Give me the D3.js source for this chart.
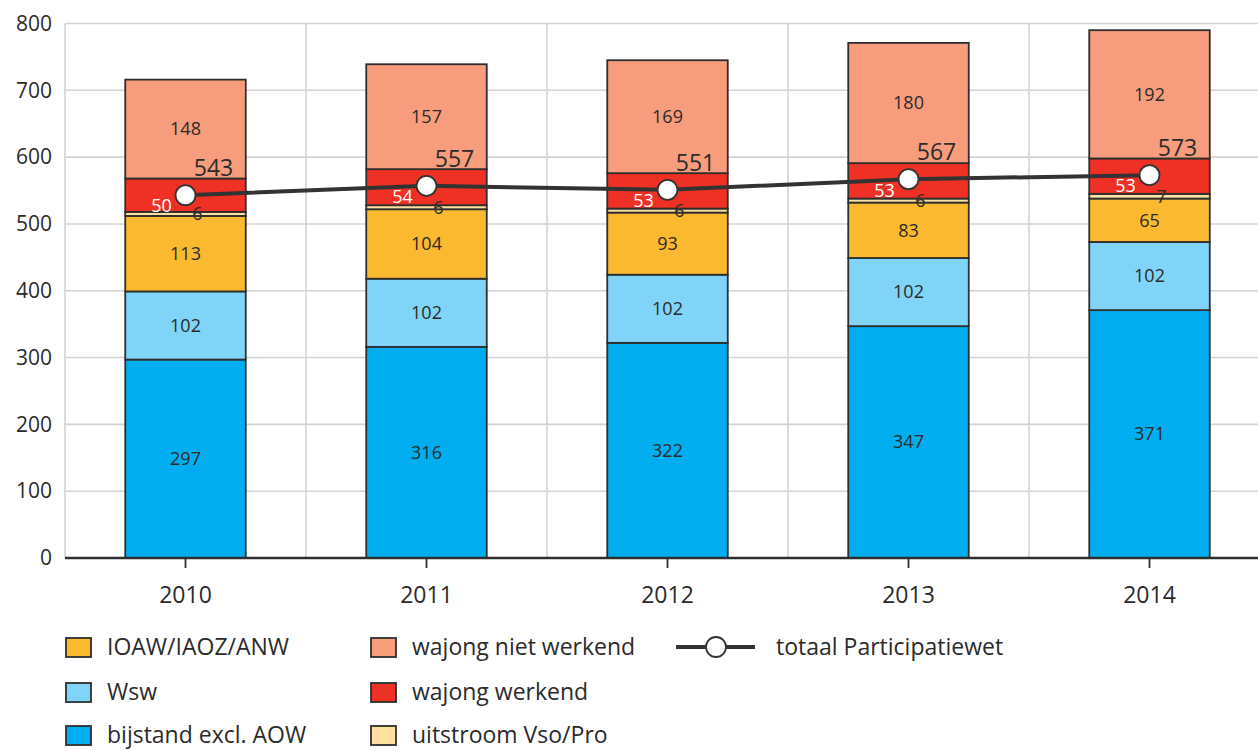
<!DOCTYPE html>
<html><head><meta charset="utf-8">
<script src="https://cdn.jsdelivr.net/npm/d3@7"></script>
<style>
body{margin:0;background:#fff;}
svg text{font-family:"Open Sans","Noto Sans",sans-serif;fill:#2b2b2b;}
</style></head>
<body>
<svg id="chart" width="1258" height="751"></svg>
<script>
const years = ["2010","2011","2012","2013","2014"];
const bijstand = [297,316,322,347,371];
const wsw = [102,102,102,102,102];
const ioaw = [113,104,93,83,65];
const uitstroom = [6,6,6,6,7];
const wajongWerkend = [50,54,53,53,53];
const wajongNietWerkend = [148,157,169,180,192];
const totaal = [543,557,551,567,573];
const yTicks = [0,100,200,300,400,500,600,700,800];

const seriesDefs = [
  {key:"bijstand", name:"bijstand excl. AOW", values:bijstand, color:"#00aeef"},
  {key:"wsw", name:"Wsw", values:wsw, color:"#80d4f7"},
  {key:"ioaw", name:"IOAW/IAOZ/ANW", values:ioaw, color:"#fbb92f"},
  {key:"uitstroom", name:"uitstroom Vso/Pro", values:uitstroom, color:"#fee19f"},
  {key:"ww", name:"wajong werkend", values:wajongWerkend, color:"#ee3124"},
  {key:"wnw", name:"wajong niet werkend", values:wajongNietWerkend, color:"#f79c7c"}
];

const svg = d3.select("#chart");
const x = d3.scaleBand().domain(years).range([65,1270]).padding(0);
const y = d3.scaleLinear().domain([0,800]).range([558,23.5]);
const barW = x.bandwidth()*0.5;
const cx = d => x(d) + x.bandwidth()/2;

// grid
const g = svg.append("g");
g.selectAll(".hg").data(yTicks.filter(t=>t>0)).enter().append("line")
  .attr("x1",65).attr("x2",1258).attr("y1",d=>y(d)).attr("y2",d=>y(d))
  .attr("stroke","#d4d4d4").attr("stroke-width",1.6);
const vlines = [65].concat(years.slice(1).map(d=>x(d)));
g.selectAll(".vg").data(vlines).enter().append("line")
  .attr("x1",d=>d).attr("x2",d=>d).attr("y1",y(800)).attr("y2",y(0))
  .attr("stroke","#d4d4d4").attr("stroke-width",1.6);

// y axis labels
const yAxis = d3.axisLeft(y).tickValues(yTicks).tickSize(0).tickPadding(13);
const ya = svg.append("g").attr("transform","translate(65,0)").call(yAxis);
ya.select(".domain").remove();
ya.selectAll("text").style("font-size","21px").attr("fill","#2b2b2b").attr("dy","0.32em");

// stack
const rows = years.map((yr,i)=>{const o={year:yr}; seriesDefs.forEach(s=>o[s.key]=s.values[i]); return o;});
const stack = d3.stack().keys(seriesDefs.map(s=>s.key))(rows);
const layers = svg.append("g").selectAll("g").data(stack).enter().append("g")
  .attr("fill",(d,i)=>seriesDefs[i].color);
layers.selectAll("rect").data(d=>d).enter().append("rect")
  .attr("x",d=>cx(d.data.year)-barW/2).attr("width",barW)
  .attr("y",d=>y(d[1])).attr("height",d=>y(d[0])-y(d[1]))
  .attr("stroke","#2e2e2e").attr("stroke-width",1.8);

// x axis
const xa = svg.append("g").attr("transform","translate(0,558)")
  .call(d3.axisBottom(x).tickSize(10).tickPadding(19));
xa.select(".domain").remove();
xa.selectAll(".tick line").attr("stroke","#2e2e2e").attr("stroke-width",1.8);
xa.selectAll("text").style("font-size","23px").attr("fill","#2b2b2b");
svg.append("line").attr("x1",65).attr("x2",1258).attr("y1",558).attr("y2",558)
  .attr("stroke","#2e2e2e").attr("stroke-width",2.5);

// segment labels
const labelG = svg.append("g").style("font-size","18px").attr("text-anchor","middle");
stack.forEach((layer,i)=>{
  const key = seriesDefs[i].key;
  layer.forEach(d=>{
    let lx = cx(d.data.year), ly = (y(d[0])+y(d[1]))/2, fill="#2b2b2b";
    if(key==="uitstroom"){ lx += 12; ly += 0; }
    if(key==="ww"){ lx -= 24; ly += 10; fill="#ffffff"; }
    labelG.append("text").attr("x",lx).attr("y",ly).attr("dy","0.35em")
      .attr("fill",fill).style("fill",fill).text(d[1]-d[0]);
  });
});

// total line
const line = d3.line().x((d,i)=>cx(years[i])).y(d=>y(d));
svg.append("path").datum(totaal).attr("d",line).attr("fill","none")
  .attr("stroke","#333").attr("stroke-width",4);
svg.append("g").selectAll("circle").data(totaal).enter().append("circle")
  .attr("cx",(d,i)=>cx(years[i])).attr("cy",d=>y(d)).attr("r",10)
  .attr("fill","#fff").attr("stroke","#333").attr("stroke-width",1.8);
svg.append("g").selectAll("text").data(totaal).enter().append("text")
  .attr("x",(d,i)=>cx(years[i])+28).attr("y",d=>y(d)-27).attr("dy","0.35em")
  .attr("text-anchor","middle").style("font-size","23px").text(d=>d);

// legend
const legendItems = [
  {s:seriesDefs[2], col:0,row:0},{s:seriesDefs[1], col:0,row:1},{s:seriesDefs[0], col:0,row:2},
  {s:seriesDefs[5], col:1,row:0},{s:seriesDefs[4], col:1,row:1},{s:seriesDefs[3], col:1,row:2}
];
const colX = [66,371];
const rowY = [647,692,735];
const lg = svg.append("g");
legendItems.forEach(it=>{
  lg.append("rect").attr("x",colX[it.col]).attr("y",rowY[it.row]-9).attr("width",25).attr("height",19)
    .attr("fill",it.s.color).attr("stroke","#2e2e2e").attr("stroke-width",1.8);
  lg.append("text").attr("x",colX[it.col]+41).attr("y",rowY[it.row]).attr("dy","0.35em")
    .style("font-size","23px").text(it.s.name);
});
lg.append("line").attr("x1",676).attr("x2",755).attr("y1",647).attr("y2",647)
  .attr("stroke","#333").attr("stroke-width",4);
lg.append("circle").attr("cx",716).attr("cy",647).attr("r",10).attr("fill","#fff")
  .attr("stroke","#333").attr("stroke-width",1.8);
lg.append("text").attr("x",776).attr("y",647).attr("dy","0.35em").style("font-size","23px")
  .text("totaal Participatiewet");
</script>
</body></html>
